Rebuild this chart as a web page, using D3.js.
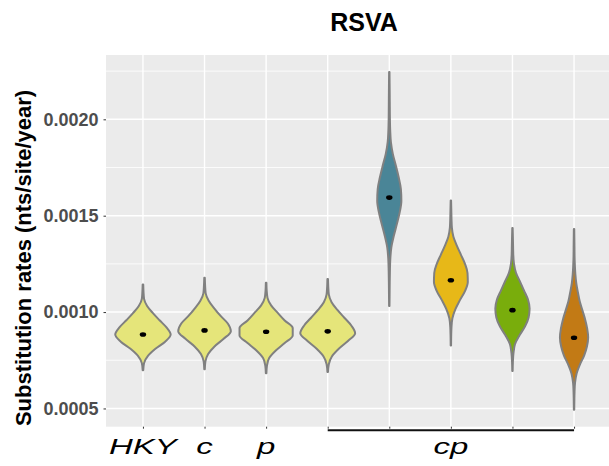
<!DOCTYPE html>
<html>
<head>
<meta charset="utf-8">
<script src="https://cdn.jsdelivr.net/npm/d3@7"></script>
<style>
  body { margin: 0; background: #fff; }
  text { font-family: "Liberation Sans", Arial, sans-serif; }
</style>
</head>
<body>
<script>
// categories on the x axis (the last five share the "cp" label)
const categories = ["HKY", "c", "p", "cp1", "cp2", "cp3", "cp4", "cp5"]
const groupLabels = ["HKY", "c", "p", "cp"]
const groupFirst = [0, 1, 2, 3]
const groupLast = [0, 1, 2, 7]

// rate range and medians of each posterior
const rateMax = [0.001143, 0.001178, 0.001152, 0.001172, 0.002246, 0.001579, 0.001436, 0.001431]
const rateMin = [0.000698, 0.000703, 0.000683, 0.000689, 0.001031, 0.000827, 0.000694, 0.000493]
const medians = [0.000884, 0.000905, 0.000898, 0.000900, 0.001594, 0.001165, 0.001010, 0.000867]

// relative density, read evenly spaced from rateMax down to rateMin
const densities = [
  [0.01, 0.02, 0.04, 0.15, 0.36, 0.60, 0.85, 1.00, 0.80, 0.45, 0.18, 0.04, 0.01],
  [0.01, 0.02, 0.04, 0.15, 0.35, 0.58, 0.84, 0.95, 0.69, 0.36, 0.13, 0.03, 0.01],
  [0.01, 0.02, 0.05, 0.18, 0.42, 0.67, 0.96, 0.96, 0.67, 0.35, 0.11, 0.03, 0.01],
  [0.01, 0.02, 0.04, 0.14, 0.35, 0.60, 0.85, 0.99, 0.73, 0.40, 0.15, 0.04, 0.01],
  [0.007, 0.011, 0.015, 0.018, 0.022, 0.033, 0.058, 0.127, 0.236, 0.338, 0.418,
   0.436, 0.375, 0.273, 0.164, 0.073, 0.036, 0.022, 0.015, 0.011, 0.007],
  [0.007, 0.015, 0.022, 0.036, 0.091, 0.218, 0.364, 0.509, 0.600, 0.611, 0.509,
   0.327, 0.164, 0.055, 0.022, 0.011, 0.007],
  [0.007, 0.015, 0.022, 0.029, 0.055, 0.127, 0.273, 0.418, 0.560, 0.618, 0.582,
   0.455, 0.255, 0.091, 0.036, 0.015, 0.007],
  [0.007, 0.011, 0.015, 0.018, 0.029, 0.047, 0.080, 0.138, 0.204, 0.302, 0.400,
   0.473, 0.509, 0.465, 0.364, 0.211, 0.091, 0.036, 0.018, 0.011, 0.007]
]

const fills = ["#E5E57A", "#E5E57A", "#E5E57A", "#E5E57A", "#4A8597", "#E7B818", "#79AD0C", "#C27A15"]
const yTicks = [0.0005, 0.0010, 0.0015, 0.0020]

const width = 609, height = 466
const pLeft = 106, pRight = 611, pTop = 55, pBottom = 426.7

const svg = d3.select("body").append("svg")
  .attr("width", width)
  .attr("height", height)

let lo = d3.min(rateMin), hi = d3.max(rateMax)
let pad = (hi - lo) * 0.05
const y = d3.scaleLinear().domain([lo - pad, hi + pad]).range([pBottom, pTop])
const x = d3.scalePoint().domain(categories).range([pLeft, pRight]).padding(0.6)
const w = d3.scaleLinear().domain([0, 1]).range([0, x.step() * 0.45])

// panel
svg.append("rect")
  .attr("x", pLeft).attr("y", pTop)
  .attr("width", pRight - pLeft).attr("height", pBottom - pTop)
  .attr("fill", "#EBEBEB")

const minor = [yTicks[0] - 0.00025].concat(yTicks.map(t => t + 0.00025))
  .filter(t => t > y.domain()[0] && t < y.domain()[1])
svg.selectAll(".minor").data(minor).enter().append("line")
  .attr("x1", pLeft).attr("x2", pRight)
  .attr("y1", d => y(d)).attr("y2", d => y(d))
  .attr("stroke", "#fff").attr("stroke-width", 0.8)
svg.selectAll(".major").data(yTicks).enter().append("line")
  .attr("x1", pLeft).attr("x2", pRight)
  .attr("y1", d => y(d)).attr("y2", d => y(d))
  .attr("stroke", "#fff").attr("stroke-width", 1.4)
svg.selectAll(".vgrid").data(categories).enter().append("line")
  .attr("x1", d => x(d)).attr("x2", d => x(d))
  .attr("y1", pTop).attr("y2", pBottom)
  .attr("stroke", "#fff").attr("stroke-width", 1.4)

// violins
const area = d3.area()
  .y(p => y(p.v))
  .x0(p => p.cx - w(p.d))
  .x1(p => p.cx + w(p.d))
  .curve(d3.curveMonotoneY)

categories.forEach((c, i) => {
  const n = densities[i].length
  const step = (rateMax[i] - rateMin[i]) / (n - 1)
  const pts = densities[i].map((d, j) => ({ v: rateMax[i] - j * step, d: d, cx: x(c) }))
  svg.append("path")
    .datum(pts)
    .attr("d", area)
    .attr("fill", fills[i])
    .attr("stroke", "#808080")
    .attr("stroke-width", 2)
    .attr("stroke-linejoin", "round")
})

svg.selectAll(".median").data(categories).enter().append("ellipse")
  .attr("cx", d => x(d))
  .attr("cy", (d, i) => y(medians[i]))
  .attr("rx", 3.2).attr("ry", 2.3)
  .attr("fill", "#000")

// y axis
const yAxis = svg.append("g")
  .attr("transform", `translate(${pLeft},0)`)
  .call(d3.axisLeft(y).tickValues(yTicks).tickFormat(d3.format(".4f")).tickSize(2.5).tickPadding(5))
yAxis.select(".domain").remove()
yAxis.selectAll("line").attr("stroke", "#333")
yAxis.selectAll("text")
  .attr("fill", "#4D4D4D")
  .style("font-size", "18px")
  .style("font-weight", "bold")
  .style("font-family", "'Liberation Sans', Arial, sans-serif")

// x axis ticks
const xAxis = svg.append("g")
  .attr("transform", `translate(0,${pBottom})`)
  .call(d3.axisBottom(x).tickSize(2).tickFormat(""))
xAxis.select(".domain").remove()
xAxis.selectAll("line").attr("stroke", "#333")

// bracket under the cp group
svg.append("line")
  .attr("x1", x(categories[3])).attr("x2", x(categories[7]))
  .attr("y1", pBottom + 3.5).attr("y2", pBottom + 3.5)
  .attr("stroke", "#111").attr("stroke-width", 2)

groupLabels.forEach((g, i) => {
  const cx = (x(categories[groupFirst[i]]) + x(categories[groupLast[i]])) / 2
  svg.append("text")
    .attr("transform", `translate(${cx},454) scale(1.5,1)`)
    .attr("text-anchor", "middle")
    .style("font-size", "22px")
    .style("font-style", "italic")
    .attr("fill", "#000")
    .text(g)
})

// titles
svg.append("text")
  .attr("x", 364).attr("y", 31)
  .attr("text-anchor", "middle")
  .style("font-size", "25px")
  .style("font-weight", "bold")
  .text("RSVA")

svg.append("text")
  .attr("transform", "translate(31,258) rotate(-90)")
  .attr("text-anchor", "middle")
  .style("font-size", "22px")
  .style("font-weight", "bold")
  .text("Substitution rates (nts/site/year)")
</script>
</body>
</html>
